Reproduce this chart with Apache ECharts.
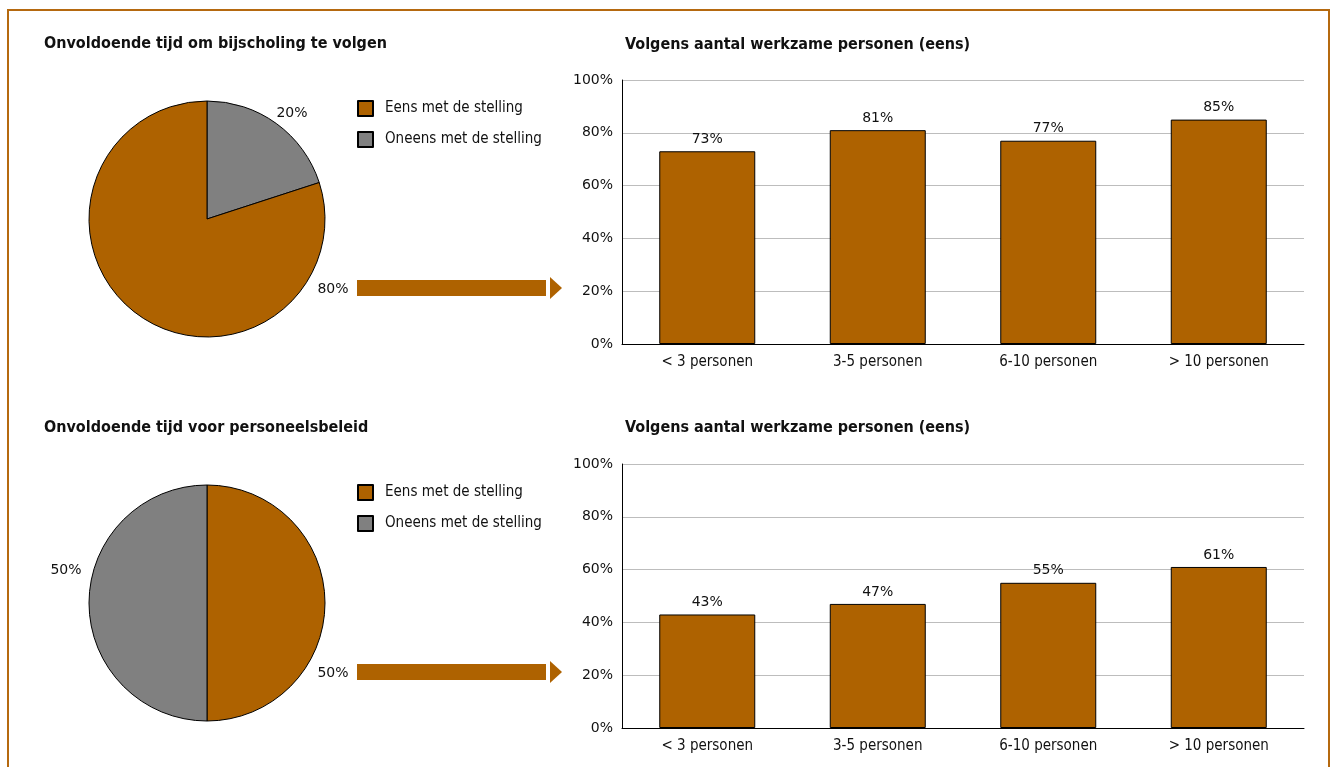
<!DOCTYPE html>
<html>
<head>
<meta charset="utf-8">
<script src="https://cdn.jsdelivr.net/npm/echarts@6/dist/echarts.min.js"></script>
<style>
  html, body { margin: 0; padding: 0; background: #fff; }
  #chart { width: 1335px; height: 767px; }
</style>
</head>
<body>
<div id="chart"></div>
<script>
// data
const pieNames = ["Eens met de stelling", "Oneens met de stelling"];
const pie1Values = [80, 20]; // eens, oneens
const pie2Values = [50, 50];
const barCategories = ["< 3 personen", "3-5 personen", "6-10 personen", "> 10 personen"];
const bar1Values = [73, 81, 77, 85];
const bar2Values = [43, 47, 55, 61];
const yTicks = [0, 20, 40, 60, 80, 100];

const BROWN = "#AE6200";
const GREY = "#808080";
const FRAME = "#B5690F";
const NUM_FONT = "DejaVu Sans";
const COND_FONT = "DejaVu Sans Condensed";

const chartDom = document.getElementById("chart");
const myChart = echarts.init(chartDom, null, { renderer: "canvas" });

const colorOf = (name) => (name === pieNames[0] ? BROWN : GREY);

// top pie: grey slice first from 12 o'clock, bottom pie: brown first
function pieData(values, order) {
  return order.map((i) => ({
    name: pieNames[i],
    value: values[i],
    itemStyle: { color: colorOf(pieNames[i]) },
  }));
}

function pieSeries(values, order, cy) {
  return {
    type: "pie",
    center: [207, cy],
    radius: 118,
    startAngle: 90,
    clockwise: true,
    silent: true,
    label: { show: false },
    labelLine: { show: false },
    itemStyle: { borderColor: "#000", borderWidth: 1 },
    data: pieData(values, order),
  };
}

function barSeries(values, idx) {
  return {
    type: "bar",
    xAxisIndex: idx,
    yAxisIndex: idx,
    data: values,
    barWidth: 96,
    itemStyle: { color: BROWN, borderColor: "#000", borderWidth: 1 },
    label: {
      show: true,
      position: "top",
      distance: 5,
      formatter: "{c}%",
      fontFamily: NUM_FONT,
      fontSize: 14,
      color: "#111",
    },
  };
}

const pctText = (v) => v + "%";

function xAxis(idx) {
  return {
    type: "category",
    gridIndex: idx,
    data: barCategories,
    axisLine: { lineStyle: { color: "#000", width: 1 } },
    axisTick: { show: false },
    axisLabel: {
      margin: 11,
      fontFamily: COND_FONT,
      fontSize: 15,
      color: "#111",
    },
  };
}

function yAxis(idx) {
  return {
    type: "value",
    gridIndex: idx,
    min: yTicks[0],
    max: yTicks[yTicks.length - 1],
    interval: yTicks[1] - yTicks[0],
    axisLine: { show: true, lineStyle: { color: "#000", width: 1 } },
    axisTick: { show: false },
    axisLabel: {
      formatter: "{value}%",
      margin: 9,
      fontFamily: NUM_FONT,
      fontSize: 14,
      color: "#111",
    },
    splitLine: { lineStyle: { color: "#bdbdbd", width: 1 } },
  };
}

const titleStyle = {
  fontFamily: COND_FONT,
  fontWeight: "bold",
  fontSize: 16,
  color: "#111",
};

function legend(top) {
  return {
    orient: "vertical",
    left: 357,
    top: top,
    padding: 0,
    itemWidth: 15,
    itemHeight: 15,
    itemGap: 14,
    icon: "rect",
    selectedMode: false,
    data: pieNames,
    textStyle: {
      fontFamily: COND_FONT,
      fontSize: 15,
      color: "#111",
      padding: [0, 0, 0, 7],
    },
  };
}

function arrow(cy) {
  return [
    {
      type: "rect",
      shape: { x: 357, y: cy - 8, width: 189, height: 16 },
      style: { fill: BROWN },
    },
    {
      type: "polygon",
      shape: { points: [[550, cy - 11], [562, cy], [550, cy + 11]] },
      style: { fill: BROWN },
    },
  ];
}

function pieLabel(x, y, value) {
  return {
    type: "text",
    x: x,
    y: y,
    style: {
      text: pctText(value),
      font: "14px '" + NUM_FONT + "'",
      fill: "#111",
      textAlign: "center",
      textVerticalAlign: "middle",
    },
  };
}

const option = {
  animation: false,
  backgroundColor: "#fff",
  title: [
    { text: "Onvoldoende tijd om bijscholing te volgen", left: 44, top: 36, padding: 0, textStyle: titleStyle },
    { text: "Volgens aantal werkzame personen (eens)", left: 625, top: 37, padding: 0, textStyle: titleStyle },
    { text: "Onvoldoende tijd voor personeelsbeleid", left: 44, top: 420, padding: 0, textStyle: titleStyle },
    { text: "Volgens aantal werkzame personen (eens)", left: 625, top: 420, padding: 0, textStyle: titleStyle },
  ],
  legend: [legend(100), legend(484)],
  grid: [
    { left: 622, right: 31, top: 80, height: 264 },
    { left: 622, right: 31, top: 464, height: 264 },
  ],
  xAxis: [xAxis(0), xAxis(1)],
  yAxis: [yAxis(0), yAxis(1)],
  series: [
    pieSeries(pie1Values, [1, 0], 219),
    pieSeries(pie2Values, [0, 1], 603),
    barSeries(bar1Values, 0),
    barSeries(bar2Values, 1),
  ],
  graphic: [
    {
      type: "rect",
      shape: { x: 8, y: 10, width: 1321, height: 800 },
      style: { fill: "none", stroke: FRAME, lineWidth: 2 },
      silent: true,
    },
    ...arrow(288),
    ...arrow(672),
    pieLabel(292, 113, pie1Values[1]),
    pieLabel(333, 289, pie1Values[0]),
    pieLabel(66, 570, pie2Values[1]),
    pieLabel(333, 673, pie2Values[0]),
  ],
};

myChart.setOption(option);
</script>
</body>
</html>
